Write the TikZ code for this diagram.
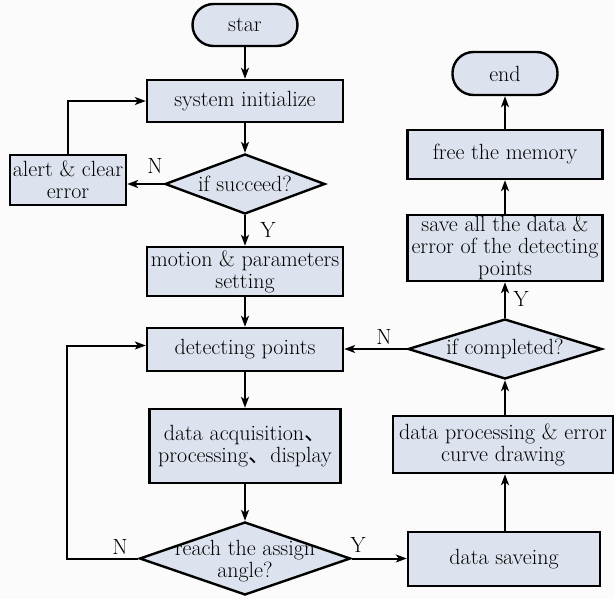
\documentclass[tikz,border=0pt]{standalone}
\usepackage{fontspec}
\usetikzlibrary{shapes.geometric,arrows.meta}
\newfontfamily\cjk{Noto Sans CJK SC}
\definecolor{boxfill}{RGB}{221,227,238}
\definecolor{bg}{RGB}{251,251,251}
\begin{document}
\begin{tikzpicture}[x=1pt,y=-1pt,
  every node/.style={font=\fontsize{22}{22}\selectfont},
  box/.style={draw=black,line width=2.4pt,fill=boxfill,rectangle,inner sep=0pt,align=center},
  term/.style={box,rounded corners=21pt},
  diam/.style={draw=black,line width=2.4pt,fill=boxfill,diamond,inner sep=0pt},
  lbl/.style={align=center,inner sep=0pt},
  arr/.style={line width=2pt,-{Stealth[length=11pt,width=8pt,inset=3pt]}},
  yn/.style={inner sep=0pt}]
\fill[bg] (0,0) rectangle (614,599);
\useasboundingbox (0,0) rectangle (614,599);
% left column
\node[term,minimum width=105pt,minimum height=42pt] (star) at (245,25) {star};
\node[box,minimum width=196pt,minimum height=42pt] (sys) at (245,101) {system initialize};
\node[diam,minimum width=160pt,minimum height=60pt] (succ) at (245,184) {};
\node[lbl] at (succ) {if succeed?};
\node[box,minimum width=116pt,minimum height=50pt] (alert) at (68,180) {alert \& clear\\error};
\node[box,minimum width=196pt,minimum height=49pt] (motion) at (245,271.5) {motion \& parameters\\setting};
\node[box,minimum width=196pt,minimum height=43pt] (detect) at (245,349.5) {detecting points};
\node[box,minimum width=191pt,minimum height=74pt] (acq) at (245,446) {data acquisition{\cjk 、}\\processing{\cjk 、}display};
\node[diam,minimum width=211pt,minimum height=73pt] (reach) at (245,558.5) {};
\node[lbl] at ([yshift=-3pt]reach.center) {reach the assign\\angle?};
% right column
\node[term,minimum width=105pt,minimum height=43pt] (end) at (505,73.5) {end};
\node[box,minimum width=195pt,minimum height=49pt] (free) at (505,154.5) {free the memory};
\node[box,minimum width=195pt,minimum height=66pt] (save) at (505,248) {save all the data \&\\error of the detecting\\points};
\node[diam,minimum width=194pt,minimum height=60pt] (compl) at (505,349) {};
\node[lbl] at (compl) {if completed?};
\node[box,minimum width=220pt,minimum height=57pt] (dproc) at (503,444.5) {data processing \& error\\curve drawing};
\node[box,minimum width=192pt,minimum height=54pt] (dsave) at (504,559) {data saveing};
% connectors
\draw[arr] (star) -- (sys);
\draw[arr] (sys) -- (succ);
\draw[arr] (succ.west) -- (succ.west -| alert.east);
\node[yn] at (155,166) {N};
\draw[arr] (alert.north) |- (sys.west);
\draw[arr] (succ.south) -- (motion.north);
\node[yn] at (268,230) {Y};
\draw[arr] (motion) -- (detect);
\draw[arr] (detect) -- (acq);
\draw[arr] (acq) -- (reach.north);
\coordinate (lp) at (67,558.5);
\draw[arr] (reach.west) -- (lp) |- ([yshift=4pt]detect.west);
\node[yn] at (120,547) {N};
\draw[arr] (reach.east) -- (reach.east -| dsave.west);
\node[yn] at (358,545) {Y};
\draw[arr] (dsave.north -| compl.south) -- (dproc.south -| compl.south);
\draw[arr] (dproc.north -| compl.south) -- (compl.south);
\draw[arr] (compl.west) -- (compl.west -| detect.east);
\node[yn] at (384,337) {N};
\draw[arr] (compl.north) -- (save.south -| compl.north);
\node[yn] at (521,299) {Y};
\draw[arr] (save) -- (free);
\draw[arr] (free) -- (end);
\end{tikzpicture}
\end{document}
